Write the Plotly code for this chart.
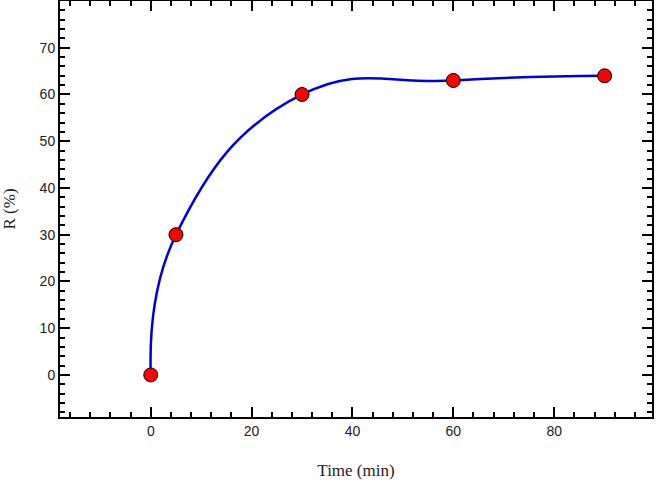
import plotly.graph_objects as go

time_min = [0, 5, 30, 60, 90]
r_pct = [0, 30, 60, 63, 64]

fig = go.Figure()
fig.add_trace(go.Scatter(
    x=time_min, y=r_pct, mode="lines",
    line=dict(color="#0000dd", width=2.5, shape="spline", smoothing=1.3),
    hoverinfo="skip", showlegend=False))
fig.add_trace(go.Scatter(
    x=time_min, y=r_pct, mode="markers",
    marker=dict(color="#ff0000", size=14, line=dict(color="black", width=1)),
    showlegend=False))

axis_common = dict(
    showline=True, linecolor="black", linewidth=2, mirror="allticks",
    ticks="inside", ticklen=10, tickwidth=2, tickcolor="black",
    showgrid=False, zeroline=False,
    tickfont=dict(family="Liberation Sans, Arial", size=14, color="#222"),
)

fig.update_xaxes(
    range=[-18, 99.4], dtick=20, tick0=0,
    minor=dict(ticks="inside", ticklen=5, dtick=4, tick0=0, tickwidth=2, tickcolor="black", showgrid=False),
    title=dict(text="Time (min)", font=dict(family="Liberation Serif, Times New Roman", size=17, color="#222"), standoff=26),
    **axis_common)
fig.update_yaxes(
    range=[-9, 80], dtick=10, tick0=0,
    minor=dict(ticks="inside", ticklen=5, dtick=2, tick0=0, tickwidth=2, tickcolor="black", showgrid=False),
    title=dict(text="R (%)", font=dict(family="Liberation Serif, Times New Roman", size=17, color="#222"), standoff=20),
    **axis_common)

fig.update_layout(
    width=656, height=483,
    margin=dict(l=60, r=4, t=1, b=66, autoexpand=False),
    plot_bgcolor="white", paper_bgcolor="white",
)

fig.write_html("out.html", config={"displayModeBar": False},
               post_script="document.body.style.margin='0';")
